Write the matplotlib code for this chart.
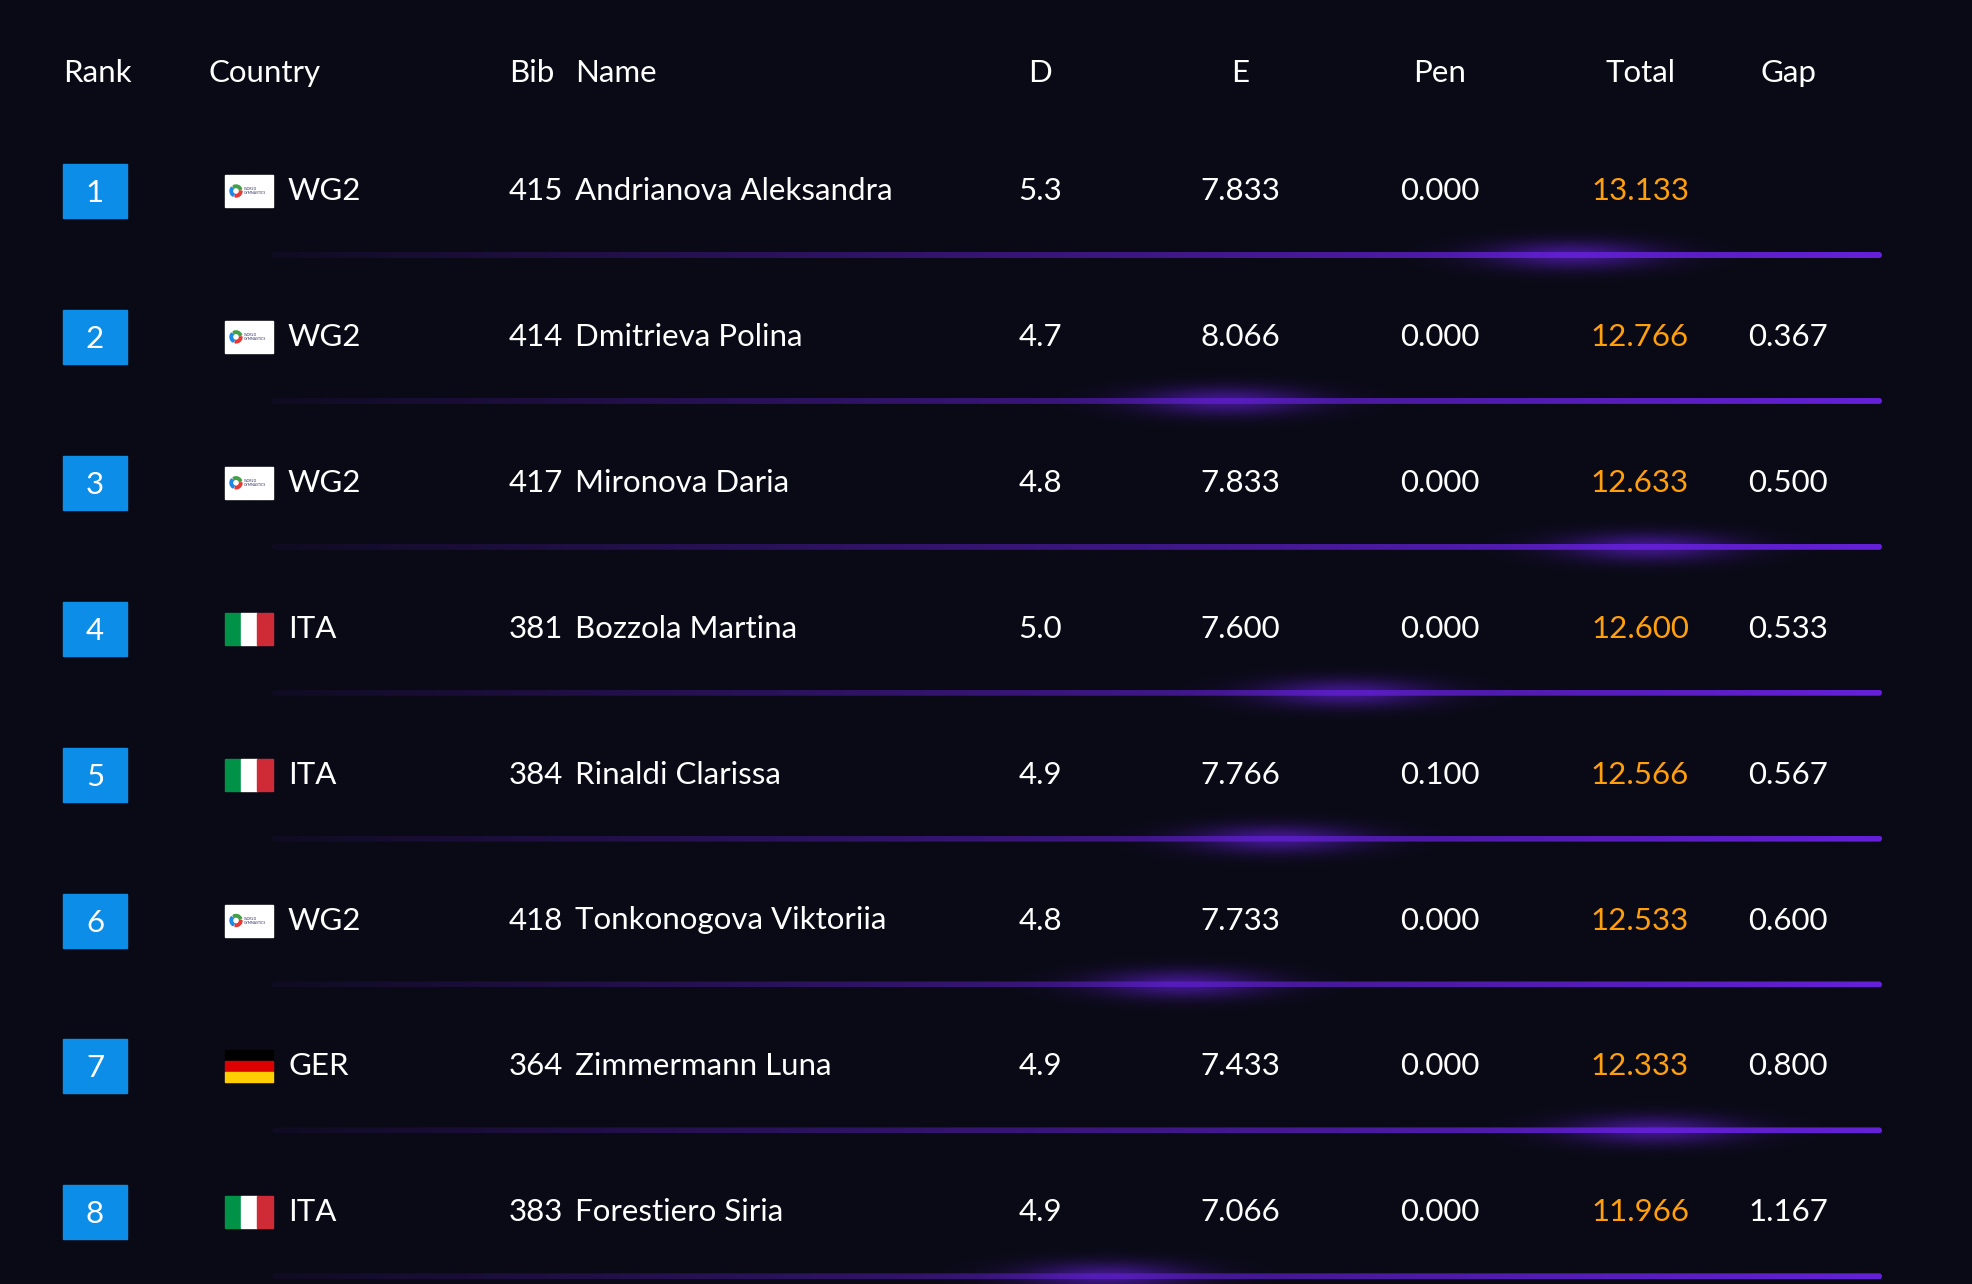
import numpy as np
import matplotlib.pyplot as plt
from matplotlib.patches import Rectangle, FancyBboxPatch, Wedge
from matplotlib.colors import to_rgb

# table data
headers = ["Rank", "Country", "Bib", "Name", "D", "E", "Pen", "Total", "Gap"]
ranks = [1, 2, 3, 4, 5, 6, 7, 8]
countries = ["WG2", "WG2", "WG2", "ITA", "ITA", "WG2", "GER", "ITA"]
bibs = [415, 414, 417, 381, 384, 418, 364, 383]
names = ["Andrianova Aleksandra", "Dmitrieva Polina", "Mironova Daria",
         "Bozzola Martina", "Rinaldi Clarissa", "Tonkonogova Viktoriia",
         "Zimmermann Luna", "Forestiero Siria"]
d_scores = [5.3, 4.7, 4.8, 5.0, 4.9, 4.8, 4.9, 4.9]
e_scores = [7.833, 8.066, 7.833, 7.600, 7.766, 7.733, 7.433, 7.066]
penalties = [0.000, 0.000, 0.000, 0.000, 0.100, 0.000, 0.000, 0.000]
totals = [13.133, 12.766, 12.633, 12.600, 12.566, 12.533, 12.333, 11.966]
gaps = [None, 0.367, 0.500, 0.533, 0.567, 0.600, 0.800, 1.167]

# decoration: where the glow sits on each separator
glow_x = [1572, 1226, 1648, 1346, 1277, 1182, 1654, 1107]

BG = "#0a0a16"
BLUE = "#0b8de8"
ORANGE = "#ff9f0a"
PURPLE = "#6a22e4"
FONT = "Lato"
FS = 22.5

W, H = 1972, 1284
fig = plt.figure(figsize=(W / 100, H / 100), dpi=100, facecolor=BG)
ax = fig.add_axes([0, 0, 1, 1])
ax.set_facecolor(BG)
ax.set_xlim(0, W)
ax.set_ylim(H, 0)
ax.axis("off")

row0 = 191
step = 145.9

def txt(x, y, s, ha="left", color="white"):
    ax.text(x, y, s, ha=ha, va="baseline", color=color, fontsize=FS,
            family=FONT, zorder=5)

# header
hy = 82
txt(63, hy, "Rank")
txt(209, hy, "Country")
txt(509, hy, "Bib")
txt(575, hy, "Name")
for h, x in zip(headers[4:], [1040, 1240, 1440, 1640, 1788]):
    txt(x, hy, h, ha="center")

purple_rgb = np.array(to_rgb(PURPLE))

def draw_flag(code, x, y):
    w, h = 48, 32
    if code == "ITA":
        for k, c in enumerate(["#009246", "#ffffff", "#ce2b37"]):
            ax.add_patch(Rectangle((x + k * w / 3, y), w / 3, h, color=c, zorder=4))
    elif code == "GER":
        for k, c in enumerate(["#000000", "#dd0000", "#ffce00"]):
            ax.add_patch(Rectangle((x, y + k * h / 3), w, h / 3, color=c, zorder=4))
    else:
        ax.add_patch(Rectangle((x, y), w, h, color="white", zorder=4))
        cx, cy = x + 11, y + 16
        for a0, c in zip([0, 120, 240], ["#e53935", "#1e88e5", "#43a047"]):
            ax.add_patch(Wedge((cx, cy), 6, a0, a0 + 100, width=2.5, color=c, zorder=5))
        ax.text(x + 19, cy, "WORLD\nGYMNASTICS", fontsize=2.5, color="#333366",
                va="center", ha="left", family=FONT, zorder=5, linespacing=1.0)

for i in range(len(ranks)):
    cy = row0 + i * step
    base = cy + 9
    # rank box
    ax.add_patch(Rectangle((63, cy - 27), 64, 54, color=BLUE, zorder=3))
    ax.text(95, cy + 11, str(ranks[i]), ha="center", va="baseline", color="white",
            fontsize=FS, family=FONT, zorder=5)
    draw_flag(countries[i], 225, cy - 16)
    txt(288, base, countries[i])
    txt(509, base, str(bibs[i]))
    txt(575, base, names[i])
    txt(1040, base, f"{d_scores[i]:.1f}", ha="center")
    txt(1240, base, f"{e_scores[i]:.3f}", ha="center")
    txt(1440, base, f"{penalties[i]:.3f}", ha="center")
    txt(1640, base, f"{totals[i]:.3f}", ha="center", color=ORANGE)
    if gaps[i] is not None:
        txt(1788, base, f"{gaps[i]:.3f}", ha="center")

    # separator with gradient
    ly = cy + 64
    x0, x1 = 272, 1882
    line = FancyBboxPatch((x0, ly - 3), x1 - x0, 6,
                          boxstyle="round,pad=0,rounding_size=3",
                          facecolor="none", edgecolor="none", zorder=2)
    ax.add_patch(line)
    grad = np.zeros((1, 400, 4))
    grad[..., :3] = purple_rgb
    grad[..., 3] = np.linspace(0.06, 0.95, 400)
    im = ax.imshow(grad, extent=(x0, x1, ly + 3, ly - 3), aspect="auto",
                   zorder=2, interpolation="bilinear")
    im.set_clip_path(line)

    # glow
    gx = glow_x[i]
    xs = np.linspace(gx - 170, gx + 170, 240)
    ys = np.linspace(ly - 34, ly + 34, 68)
    X, Y = np.meshgrid(xs, ys)
    r = np.sqrt(((X - gx) / 120) ** 2 + ((Y - ly) / 20) ** 2)
    glow = np.zeros(X.shape + (4,))
    glow[..., :3] = purple_rgb
    glow[..., 3] = 0.55 * np.exp(-(r / 0.72) ** 2)
    ax.imshow(glow, extent=(xs[0], xs[-1], ys[-1], ys[0]), aspect="auto",
              zorder=3, interpolation="bilinear")

ax.set_xlim(0, W)
ax.set_ylim(H, 0)
fig.savefig("out.png", dpi=100, facecolor=BG)
